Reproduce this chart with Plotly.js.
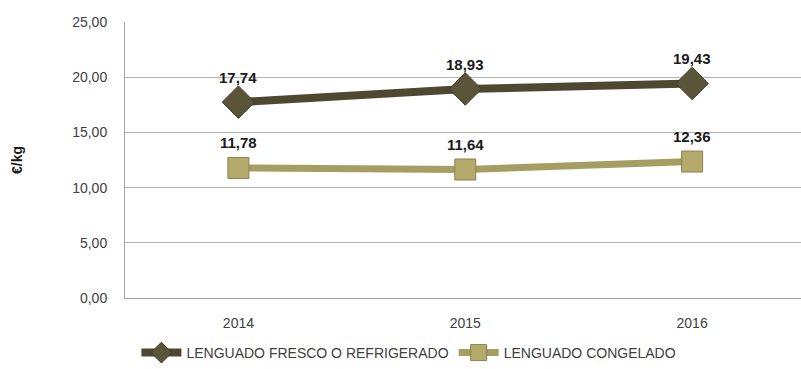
<!DOCTYPE html>
<html><head><meta charset="utf-8">
<script src="https://cdn.plot.ly/plotly-3.0.1.min.js"></script>
<style>html,body{margin:0;padding:0;background:#fff}</style>
</head><body><div id="chart" style="width:801px;height:369px"></div>
<script>
const years = ['2014', '2015', '2016'];
const fresco = [17.74, 18.93, 19.43];
const congelado = [11.78, 11.64, 12.36];
const seriesNames = ['LENGUADO FRESCO O REFRIGERADO', 'LENGUADO CONGELADO'];
const yTicks = [0, 5, 10, 15, 20, 25];

const darkC = '#4e4831';
const lightC = '#a69d60';
const fmt = v => v.toFixed(2).replace('.', ',');

const traces = [
  {x: years, y: fresco, name: seriesNames[0], type: 'scatter', mode: 'lines+markers',
   line: {color: darkC, width: 8}, marker: {symbol: 'diamond', size: 25, color: '#5a5438', line: {color: '#3e3a25', width: 1}}},
  {x: years, y: congelado, name: seriesNames[1], type: 'scatter', mode: 'lines+markers',
   line: {color: lightC, width: 7}, marker: {symbol: 'square', size: 21, color: '#b3aa6b', line: {color: '#8a8250', width: 1}}}
];

const annotations = [];
[fresco, congelado].forEach(s => s.forEach((v, i) => annotations.push({
  xref: 'x', yref: 'y', x: i, y: v, text: '<b>' + fmt(v) + '</b>', showarrow: false, yshift: 25,
  font: {family: 'Liberation Sans, Arial, sans-serif', size: 15, color: '#1a1a1a'}
})));

const layout = {
  width: 801, height: 369,
  margin: {l: 125, r: 0, t: 22, b: 71},
  paper_bgcolor: '#fff', plot_bgcolor: '#fff',
  separators: ',.',
  showlegend: true,
  legend: {orientation: 'h', x: 0.42, xanchor: 'center', y: -0.2, yanchor: 'middle',
    font: {family: 'Liberation Sans Narrow, Liberation Sans, Arial, sans-serif', size: 14, color: '#404040'},
    itemwidth: 40, tracegroupgap: 0},
  xaxis: {type: 'category', range: [-0.5, 2.48], showgrid: false, showline: true, linecolor: '#a6a6a6', linewidth: 1,
    ticks: '', ticklabelstandoff: 12,
    tickfont: {family: 'Liberation Sans, Arial, sans-serif', size: 14, color: '#404040'}},
  yaxis: {range: [0, 25], tickvals: yTicks, tickformat: '.2f', showgrid: true, gridcolor: '#b3b3b3', gridwidth: 1,
    showline: true, linecolor: '#a6a6a6', linewidth: 1, zeroline: false, ticks: '', ticklabelstandoff: 14,
    tickfont: {family: 'Liberation Sans, Arial, sans-serif', size: 14, color: '#404040'},
    title: {text: '<b>€/kg</b>', standoff: 46, font: {family: 'Liberation Sans, Arial, sans-serif', size: 14, color: '#1a1a1a'}}},
  annotations: annotations
};

Plotly.newPlot('chart', traces, layout, {displayModeBar: false, staticPlot: true});
</script></body></html>
